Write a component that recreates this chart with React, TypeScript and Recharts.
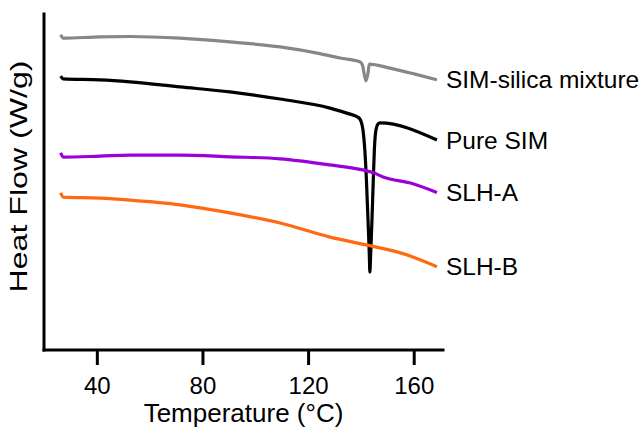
import { LineChart, Line, XAxis, YAxis, LabelList } from "recharts"

const FONT = '"Liberation Sans", Arial, sans-serif'

// temperature (°C) / heat flow (arbitrary, no scale shown)
const mixT = [26.1, 27.1, 41.0, 52.4, 71.3, 90.2, 109.2, 124.3, 131.9, 139.4, 140.4, 141.7, 142.5, 143.0, 150.8, 160.3, 168.6]
const mixV = [93.8, 92.8, 93.2, 93.3, 92.8, 91.7, 90.2, 88.2, 86.9, 85.8, 84.8, 80.1, 82.4, 85.1, 83.9, 82.1, 80.4]

const pureT = [26.1, 27.1, 41.0, 52.4, 71.3, 90.2, 109.2, 128.1, 135.7, 138.7, 139.8, 140.6, 141.3, 141.9, 142.5, 143.0, 143.2, 143.5, 144.0, 144.5, 144.9, 145.5, 146.3, 147.0, 168.6]
const pureV = [81.5, 80.7, 80.4, 79.8, 78.3, 76.8, 74.7, 72.0, 70.2, 69.3, 68.2, 65.5, 59.5, 50.6, 38.7, 28.3, 23.2, 28.3, 38.7, 50.6, 59.5, 65.5, 67.3, 67.6, 62.5]

const slhAT = [26.1, 27.1, 41.0, 52.4, 71.3, 90.2, 109.2, 128.1, 140.6, 144.4, 148.2, 159.5, 168.6]
const slhAV = [58.7, 57.4, 57.7, 58.0, 58.0, 57.5, 56.9, 55.1, 53.6, 52.8, 51.5, 49.5, 46.9]

const slhBT = [26.1, 27.1, 41.0, 52.4, 71.3, 90.2, 109.2, 128.1, 141.7, 153.5, 159.5, 168.6]
const slhBV = [46.8, 45.5, 45.2, 44.6, 43.2, 40.8, 37.8, 33.6, 31.3, 29.2, 27.7, 24.8]

const xTicks = [40, 80, 120, 160]

const build = (t: number[], v: number[], name: string) =>
  t.map((x, i) => ({ t: x, v: v[i], tag: i === t.length - 1 ? name : undefined }))

const series = [
  { name: "SIM-silica mixture", color: "#878787", data: build(mixT, mixV, "SIM-silica mixture") },
  { name: "Pure SIM", color: "#000000", data: build(pureT, pureV, "Pure SIM") },
  { name: "SLH-A", color: "#9b00d9", data: build(slhAT, slhAV, "SLH-A") },
  { name: "SLH-B", color: "#ff6a10", data: build(slhBT, slhBV, "SLH-B") },
]

const renderTag = (props: any) => {
  if (!props.value) return null
  return (
    <text
      x={props.x + 9}
      y={props.y}
      dominantBaseline="central"
      fontSize={24.5}
      fontFamily={FONT}
      fill="#000"
    >
      {props.value}
    </text>
  )
}

export default function App() {
  return (
    <div style={{ position: "absolute", left: 0, top: 0, width: 644, height: 433, background: "#fff" }}>
      <LineChart width={644} height={433} margin={{ top: 14, right: 201, left: 0, bottom: 0 }}>
        <XAxis
          dataKey="t"
          type="number"
          domain={[19.8, 170.9]}
          allowDataOverflow
          ticks={xTicks}
          height={83}
          tickSize={15}
          tickMargin={12}
          axisLine={{ stroke: "#000", strokeWidth: 3, strokeLinecap: "square" }}
          tickLine={{ stroke: "#000", strokeWidth: 3 }}
          tick={{ fontSize: 24, fill: "#000", fontFamily: FONT }}
          label={{
            content: (p: any) => (
              <text
                x={p.viewBox.x + p.viewBox.width / 2}
                y={p.viewBox.y + 72}
                textAnchor="middle"
                fontSize={26}
                fontFamily={FONT}
                fill="#000"
              >
                Temperature (°C)
              </text>
            ),
          }}
        />
        <YAxis
          type="number"
          domain={[0, 100]}
          allowDataOverflow
          width={44}
          tick={false}
          tickLine={false}
          axisLine={{ stroke: "#000", strokeWidth: 3, strokeLinecap: "square" }}
          label={{
            content: (p: any) => {
              const cy = p.viewBox.y + p.viewBox.height / 2 - 5.5
              return (
                <text
                  transform="rotate(-90)"
                  x={-cy}
                  y={18.5}
                  textAnchor="middle"
                  dominantBaseline="central"
                  fontSize={24}
                  fontFamily={FONT}
                  fill="#000"
                  textLength={232}
                  lengthAdjust="spacingAndGlyphs"
                >
                  Heat Flow (W/g)
                </text>
              )
            },
          }}
        />
        {series.map((s) => (
          <Line
            key={s.name}
            data={s.data}
            dataKey="v"
            type="monotone"
            stroke={s.color}
            strokeWidth={3.2}
            dot={false}
            activeDot={false}
            isAnimationActive={false}
          >
            <LabelList dataKey="tag" content={renderTag} />
          </Line>
        ))}
      </LineChart>
    </div>
  )
}
